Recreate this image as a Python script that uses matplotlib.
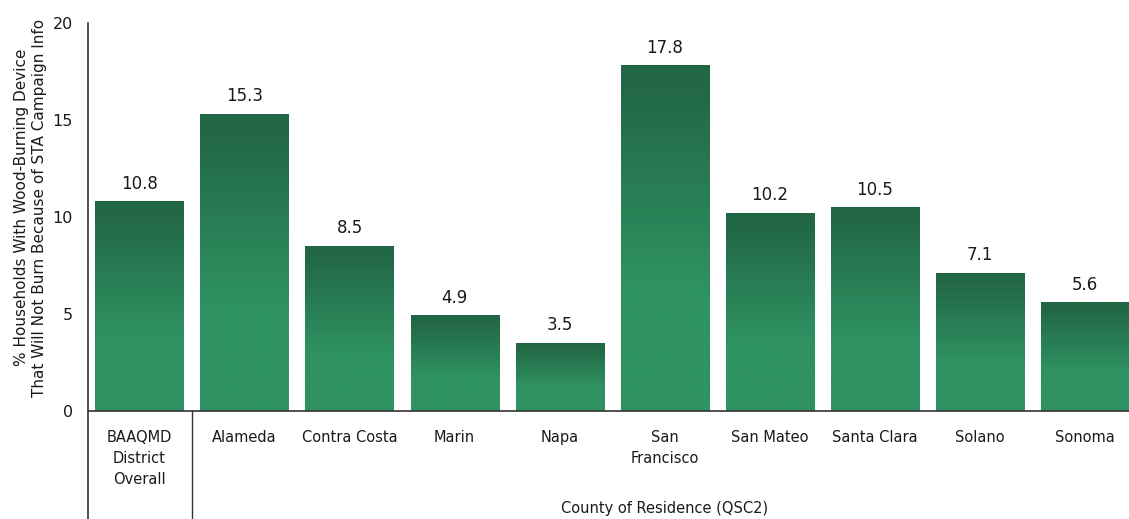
import numpy as np
import matplotlib.pyplot as plt
from matplotlib.lines import Line2D
from matplotlib.colors import LinearSegmentedColormap

#=====================================================================
categories = ['BAAQMD\nDistrict\nOverall', 'Alameda', 'Contra Costa', 'Marin', 'Napa',
              'San\nFrancisco', 'San Mateo', 'Santa Clara', 'Solano', 'Sonoma']
values = [10.8, 15.3, 8.5, 4.9, 3.5, 17.8, 10.2, 10.5, 7.1, 5.6]
y_ticks = [0, 5, 10, 15, 20]

#=====================================================================
fig = plt.figure(figsize=(11.29, 5.19), dpi=100)
ax = fig.add_axes([0.078, 0.208, 0.922, 0.748])

x = np.arange(len(values))
bars = ax.bar(x, values, width=0.84, color='none', edgecolor='none', zorder=2)

#vertical gradient in each bar: light in the lower part, darkening toward the top
cmap = LinearSegmentedColormap.from_list('g', ['#2f9262', '#226745'])
grad = np.linspace(0, 1, 256).reshape(-1, 1)
grad = np.clip((grad - 0.35) / 0.6, 0, 1)
for b, v in zip(bars, values):
    x0 = b.get_x()
    ax.imshow(grad, extent=(x0, x0 + b.get_width(), 0, v), origin='lower',
              cmap=cmap, vmin=0, vmax=1, aspect='auto', zorder=2, interpolation='bilinear')
    ax.text(b.get_x() + b.get_width() / 2, v + 0.45, f'{v:.1f}', ha='center', va='bottom',
            fontsize=12, color='#1a1a1a')

ax.set_xlim(-0.49, 9.42)
ax.set_ylim(0, 20)
ax.set_yticks(y_ticks)
ax.set_yticklabels([str(t) for t in y_ticks], fontsize=11.5, color='#1a1a1a')
ax.set_xticks(x)
ax.set_xticklabels(categories, fontsize=10.5, color='#1a1a1a', linespacing=1.5, va='top')
ax.tick_params(axis='both', length=0)
ax.tick_params(axis='x', pad=14)
ax.tick_params(axis='y', pad=11)

for s in ['top', 'right', 'left']:
    ax.spines[s].set_visible(False)
ax.spines['bottom'].set_color('#333333')
ax.spines['bottom'].set_linewidth(1.2)

#lines running down into the label area
ybot = -(519 - 411) / (411 - 23)
trans = ax.get_xaxis_transform()
ax.add_line(Line2D([-0.49, -0.49], [ybot, 1.0], transform=trans, color='#333333', lw=1.2, clip_on=False))
ax.add_line(Line2D([0.5, 0.5], [ybot, 0], transform=trans, color='#333333', lw=1.0, clip_on=False))

ax.text(5, ybot + 0.008, 'County of Residence (QSC2)', transform=trans, ha='center', va='bottom',
        fontsize=10.5, color='#1a1a1a')

fig.text(0.027, 0.6, '% Households With Wood-Burning Device\nThat Will Not Burn Because of STA Campaign Info',
         rotation=90, ha='center', va='center', fontsize=11, color='#1a1a1a', linespacing=1.3)

fig.savefig('out.png', dpi=100)
